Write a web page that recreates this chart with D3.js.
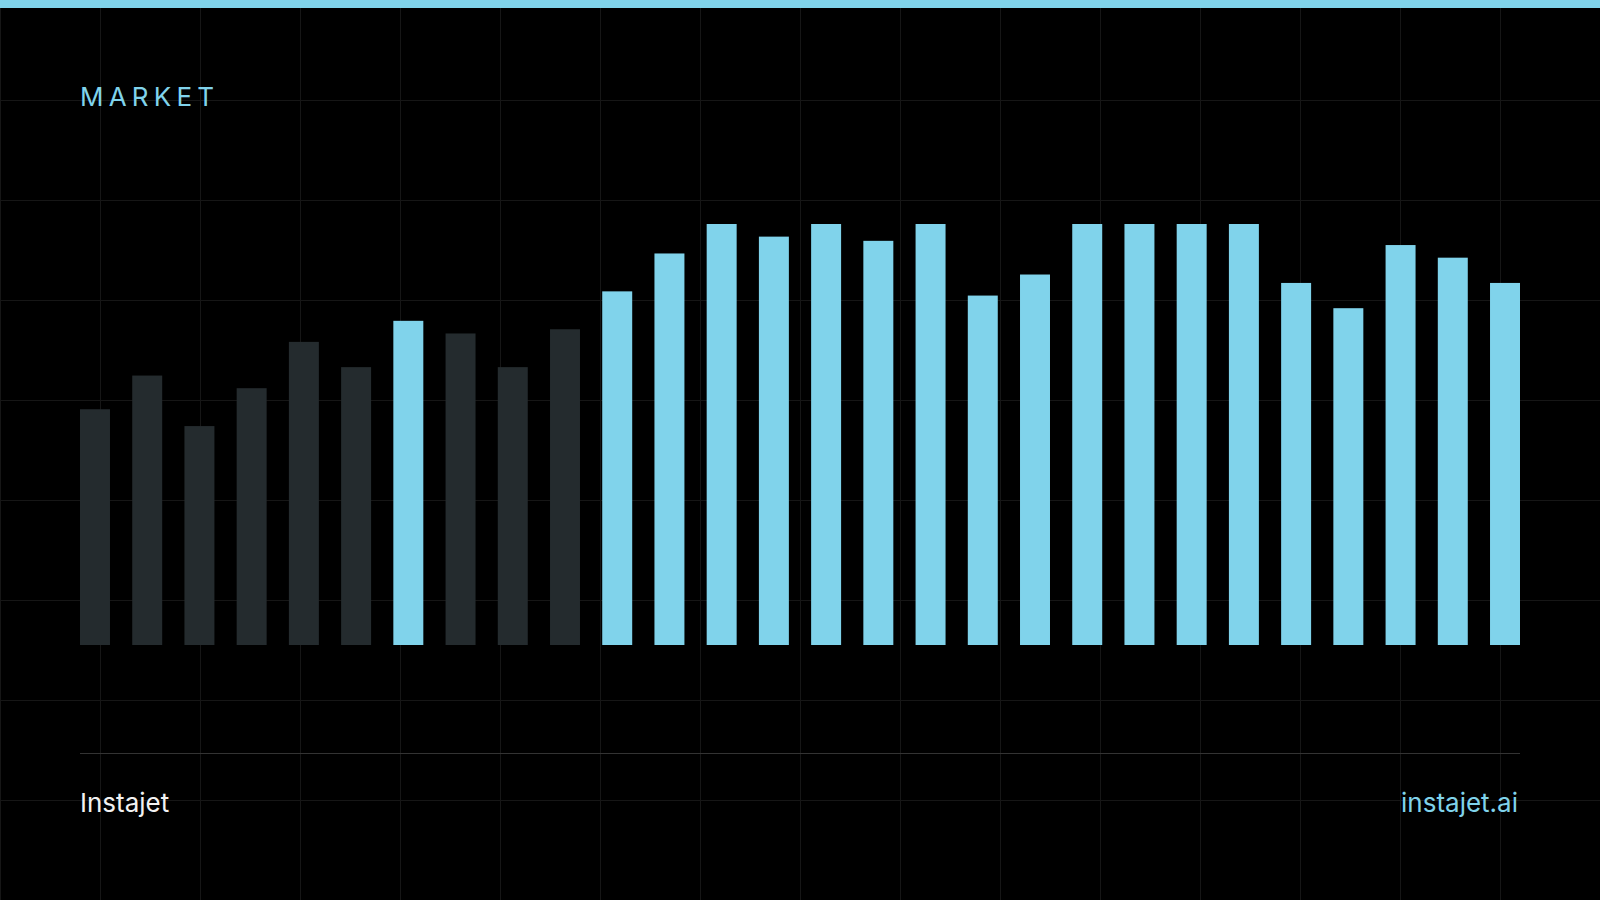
<!DOCTYPE html>
<html>
<head>
<meta charset="utf-8">
<script src="https://cdn.jsdelivr.net/npm/d3@7"></script>
<style>
    html, body { margin: 0; padding: 0; background: #000; }
    svg { display: block; }
</style>
</head>
<body>
<div id="chart"></div>
<script>
// bar values (tallest bars = 100)
var periods = d3.range(1, 29);
var values = [56, 64, 52, 61, 72, 66, 77, 74, 66, 75, 84, 93, 100, 97,
    100, 96, 100, 83, 88, 100, 100, 100, 100, 86, 80, 95, 92, 86];
var highlighted = [7, 11, 12, 13, 14, 15, 16, 17, 18, 19, 20, 21, 22, 23,
    24, 25, 26, 27, 28];
var title = "MARKET";
var brandLeft = "Instajet";
var brandRight = "instajet.ai";

var width = 1600, height = 900;
var margin = {top: 224, right: 80, bottom: 255, left: 80};
var blue = "#80d3eb";
var dim = "#242b2e";

var svg = d3.select("#chart")
    .append("svg")
    .attr("width", width)
    .attr("height", height);

svg.append("rect")
    .attr("width", width)
    .attr("height", height)
    .attr("fill", "#000");

// background grid, 100px cells
var grid = svg.append("g");
grid.selectAll(".vline")
    .data(d3.range(0, width, 100))
    .enter().append("line")
    .attr("x1", d => d + 0.5).attr("x2", d => d + 0.5)
    .attr("y1", 0).attr("y2", height)
    .attr("stroke", "#161616")
    .attr("stroke-width", 1);
grid.selectAll(".hline")
    .data(d3.range(100, height, 100))
    .enter().append("line")
    .attr("x1", 0).attr("x2", width)
    .attr("y1", d => d + 0.5).attr("y2", d => d + 0.5)
    .attr("stroke", "#161616")
    .attr("stroke-width", 1);

// top accent strip
svg.append("rect")
    .attr("width", width)
    .attr("height", 8)
    .attr("fill", blue);

var x = d3.scaleBand()
    .domain(periods)
    .range([margin.left, width - margin.right])
    .paddingInner(0.426)
    .paddingOuter(0);

var y = d3.scaleLinear()
    .domain([0, 100])
    .range([height - margin.bottom, margin.top]);

svg.append("g")
    .selectAll("rect")
    .data(values)
    .enter().append("rect")
    .attr("x", (d, i) => x(periods[i]))
    .attr("width", x.bandwidth())
    .attr("y", d => y(d))
    .attr("height", d => y(0) - y(d))
    .attr("fill", (d, i) => highlighted.indexOf(periods[i]) >= 0 ? blue : dim);

svg.append("text")
    .attr("x", 80)
    .attr("y", 106)
    .attr("fill", blue)
    .style("font-family", "Inter, 'Noto Sans', sans-serif")
    .style("font-size", "26px")
    .style("letter-spacing", "5.2px")
    .text(title);

// footer divider
svg.append("line")
    .attr("x1", 80).attr("x2", 1520)
    .attr("y1", 753.5).attr("y2", 753.5)
    .attr("stroke", "#333")
    .attr("stroke-width", 1);

svg.append("text")
    .attr("x", 80)
    .attr("y", 812)
    .attr("fill", "#f2f2f2")
    .style("font-family", "Inter, 'Noto Sans', sans-serif")
    .style("font-size", "26px")
    .text(brandLeft);

svg.append("text")
    .attr("x", 1518)
    .attr("y", 812)
    .attr("text-anchor", "end")
    .attr("fill", blue)
    .style("font-family", "Inter, 'Noto Sans', sans-serif")
    .style("font-size", "26px")
    .text(brandRight);
</script>
</body>
</html>
